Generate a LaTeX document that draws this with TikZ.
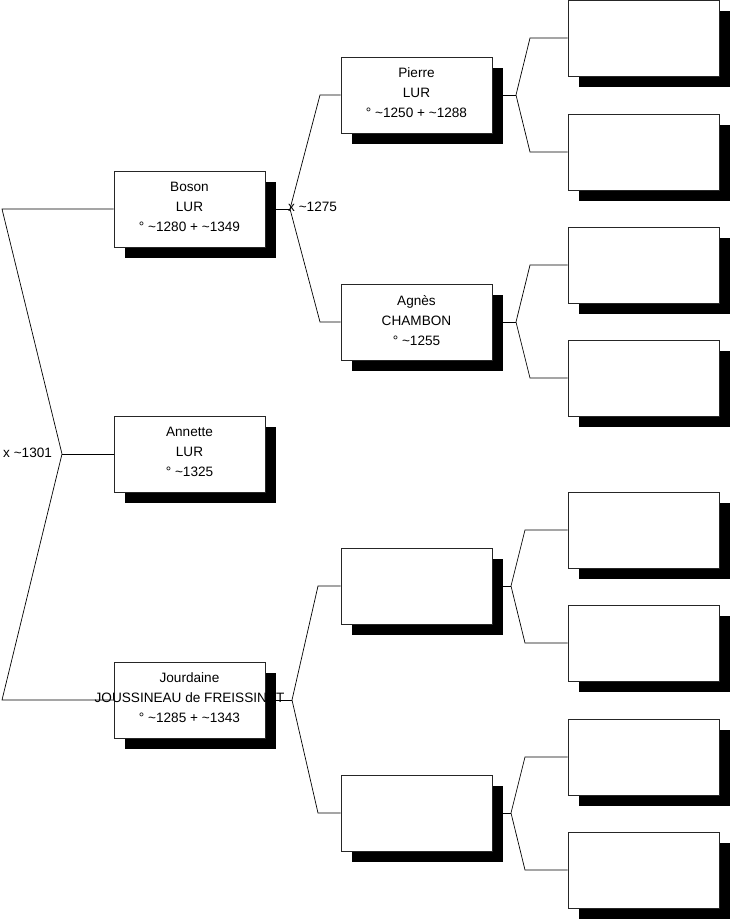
\documentclass[tikz,border=0pt]{standalone}
\usepackage{fontspec}
\setmainfont{Liberation Sans}
\usetikzlibrary{shadows,backgrounds}
\newcommand{\tl}{\textasciitilde}
\begin{document}
\begin{tikzpicture}[x=1pt,y=-1pt,
  person/.style={draw=black!85, fill=white, line width=0.7pt,
    minimum width=151pt, minimum height=76pt, inner sep=0pt, align=center,
    font=\fontsize{13.6}{20}\selectfont, text depth=4pt,
    drop shadow={shadow xshift=11pt, shadow yshift=-11pt, opacity=1, fill=black}},
  link/.style={draw=black, line width=0.7pt},
  lbl/.style={font=\fontsize{13.6}{16}\selectfont, inner sep=0pt, anchor=west}]
\useasboundingbox (0,0) rectangle (731,920);
% column 1
\node[person] (boson) at (189.5,209) {Boson\\LUR\\° \tl1280 + \tl1349};
\node[person] (annette) at (189.5,454) {Annette\\LUR\\° \tl1325};
\node[person] (jourdaine) at (189.5,700) {Jourdaine\\\makebox[0pt][c]{JOUSSINEAU de FREISSINET}\\° \tl1285 + \tl1343};
% column 2
\node[person] (pierre) at (416.5,95) {Pierre\\LUR\\° \tl1250 + \tl1288};
\node[person] (agnes) at (416.5,322) {Agnès\\CHAMBON\\° \tl1255};
\node[person] (pc) at (416.5,586) {};
\node[person] (pd) at (416.5,813) {};
% column 3
\node[person] (q1) at (643.5,38) {};
\node[person] (q2) at (643.5,152) {};
\node[person] (q3) at (643.5,265) {};
\node[person] (q4) at (643.5,378) {};
\node[person] (q5) at (643.5,530) {};
\node[person] (q6) at (643.5,643) {};
\node[person] (q7) at (643.5,757) {};
\node[person] (q8) at (643.5,870) {};
% labels
\node[lbl] (m1) at (3,453) {x \tl1301};
\node[lbl] (m2) at (288,207) {x \tl1275};
% junction coordinates
\coordinate (jl) at (62,454);
\coordinate (jlt) at (2,209);
\coordinate (jlb) at (2,700);
\coordinate (jb) at (290,209);
\coordinate (jbt) at (320,95);
\coordinate (jbb) at (320,322);
\coordinate (jj) at (292,700);
\coordinate (jjt) at (318,586);
\coordinate (jjb) at (318,813);
\coordinate (jp) at (516,95);
\coordinate (jpt) at (530,38);
\coordinate (jpb) at (530,152);
\coordinate (ja) at (516,322);
\coordinate (jat) at (530,265);
\coordinate (jab) at (530,378);
\coordinate (jc) at (511,586);
\coordinate (jct) at (525,530);
\coordinate (jcb) at (525,643);
\coordinate (jd) at (511,813);
\coordinate (jdt) at (525,757);
\coordinate (jdb) at (525,870);
\begin{scope}[on background layer]
\draw[link] (boson.west) -- (jlt) -- (jl) -- (jlb) -- (jourdaine.west);
\draw[link] (jl) -- (annette.west);
\draw[link] (boson.east) -- (jb);
\draw[link] (pierre.west) -- (jbt) -- (jb) -- (jbb) -- (agnes.west);
\draw[link] (jourdaine.east) -- (jj);
\draw[link] (pc.west) -- (jjt) -- (jj) -- (jjb) -- (pd.west);
\draw[link] (pierre.east) -- (jp);
\draw[link] (q1.west) -- (jpt) -- (jp) -- (jpb) -- (q2.west);
\draw[link] (agnes.east) -- (ja);
\draw[link] (q3.west) -- (jat) -- (ja) -- (jab) -- (q4.west);
\draw[link] (pc.east) -- (jc);
\draw[link] (q5.west) -- (jct) -- (jc) -- (jcb) -- (q6.west);
\draw[link] (pd.east) -- (jd);
\draw[link] (q7.west) -- (jdt) -- (jd) -- (jdb) -- (q8.west);
\end{scope}
\end{tikzpicture}
\end{document}
